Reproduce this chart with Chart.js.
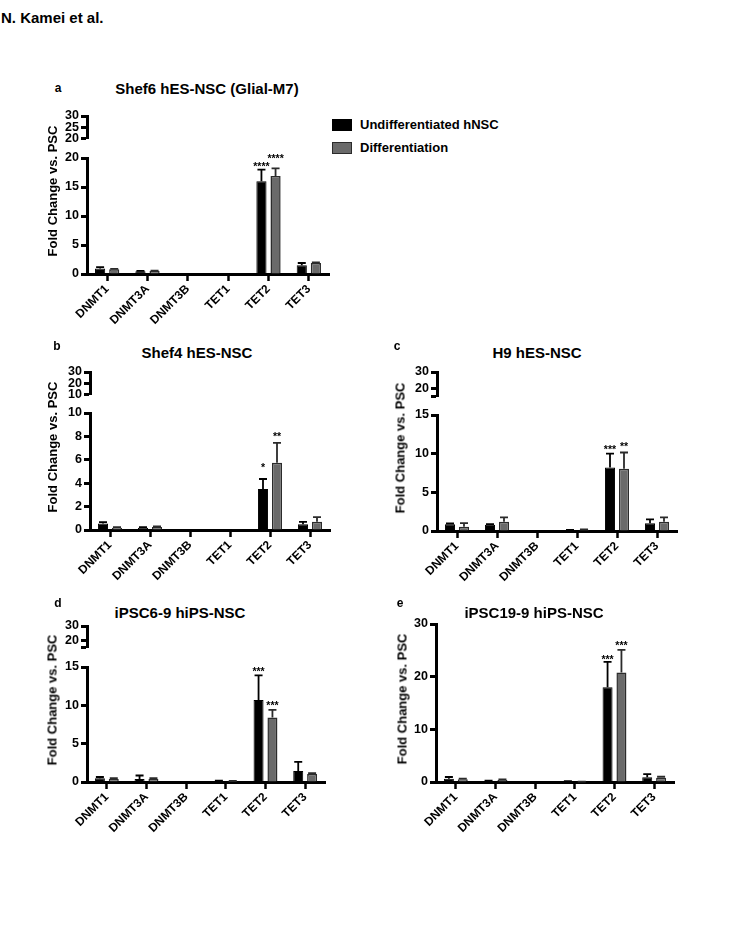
<!DOCTYPE html>
<html>
<head>
<meta charset="utf-8">
<script src="https://cdn.jsdelivr.net/npm/chart.js@4.4.1/dist/chart.umd.min.js"></script>
<style>
  body { margin: 0; background: #fff; }
  #page { position: relative; width: 737px; height: 945px; overflow: hidden;
          font-family: "Liberation Sans", Arial, sans-serif; font-weight: bold; color: #000; }
  .txt { position: absolute; white-space: nowrap; line-height: 1; }
  .ytitle { font-size: 13px; transform: translate(-50%, -50%) rotate(-90deg); }
  .title { font-size: 15px; transform: translate(-50%, -50%); }
  .letter { font-size: 12px; transform: translate(-50%, -50%); }
  .swatch { position: absolute; width: 18px; height: 10px; }
  canvas { position: absolute; }
</style>
</head>
<body>
<div id="page">
  <div class="txt" style="left:1px;top:10px;font-size:15px;">N. Kamei et al.</div>
  <div class="swatch" style="left:332px;top:119px;background:#000;border:1px solid #000;"></div>
  <div class="txt" style="left:360px;top:118px;font-size:13px;">Undifferentiated hNSC</div>
  <div class="swatch" style="left:332px;top:142px;background:#6a6a6a;border:1px solid #2b2b2b;"></div>
  <div class="txt" style="left:360px;top:141px;font-size:13px;">Differentiation</div>
</div>
<script>
// genes on the x axis
var genes = [ "DNMT1", "DNMT3A", "DNMT3B", "TET1", "TET2", "TET3" ];
var seriesNames = [ "Undifferentiated hNSC", "Differentiation" ];

// a: Shef6 hES-NSC (Glial-M7)
var shef6Undiff = [ 0.93, 0.47, 0, 0, 16.0, 1.5 ];
var shef6UndiffErr = [ 0.25, 0.08, 0, 0, 2.0, 0.4 ];
var shef6Diff = [ 0.8, 0.5, 0, 0.05, 16.9, 1.9 ];
var shef6DiffErr = [ 0.1, 0.08, 0, 0, 1.3, 0.12 ];
var shef6UndiffStars = [ "", "", "", "", "****", "" ];
var shef6DiffStars = [ "", "", "", "", "****", "" ];
var shef6LowTicks = [ 0, 5, 10, 15, 20 ];
var shef6HighTicks = [ 20, 25, 30 ];

// b: Shef4 hES-NSC
var shef4Undiff = [ 0.55, 0.2, 0, 0.03, 3.5, 0.5 ];
var shef4UndiffErr = [ 0.12, 0.05, 0, 0, 0.86, 0.2 ];
var shef4Diff = [ 0.2, 0.25, 0, 0.03, 5.75, 0.7 ];
var shef4DiffErr = [ 0.05, 0.05, 0, 0, 1.7, 0.4 ];
var shef4UndiffStars = [ "", "", "", "", "*", "" ];
var shef4DiffStars = [ "", "", "", "", "**", "" ];
var shef4LowTicks = [ 0, 2, 4, 6, 8, 10 ];
var shef4HighTicks = [ 10, 20, 30 ];

// c: H9 hES-NSC
var h9Undiff = [ 0.87, 0.8, 0, 0.1, 8.2, 1.0 ];
var h9UndiffErr = [ 0.1, 0.1, 0, 0.05, 1.8, 0.5 ];
var h9Diff = [ 0.56, 1.2, 0, 0.15, 8.05, 1.2 ];
var h9DiffErr = [ 0.45, 0.57, 0, 0.05, 2.1, 0.57 ];
var h9UndiffStars = [ "", "", "", "", "***", "" ];
var h9DiffStars = [ "", "", "", "", "**", "" ];
var h9LowTicks = [ 0, 5, 10, 15 ];
var h9HighTicks = [ 15, 20, 30 ];
var h9HighLabels = [ 20, 30 ];

// d: iPSC6-9 hiPS-NSC
var ipsc6Undiff = [ 0.5, 0.4, 0, 0.12, 10.7, 1.43 ];
var ipsc6UndiffErr = [ 0.15, 0.45, 0, 0.05, 3.2, 1.2 ];
var ipsc6Diff = [ 0.4, 0.4, 0, 0.1, 8.4, 1.04 ];
var ipsc6DiffErr = [ 0.1, 0.1, 0, 0.03, 1.0, 0.12 ];
var ipsc6UndiffStars = [ "", "", "", "", "***", "" ];
var ipsc6DiffStars = [ "", "", "", "", "***", "" ];
var ipsc6LowTicks = [ 0, 5, 10, 15 ];
var ipsc6HighTicks = [ 15, 20, 30 ];
var ipsc6HighLabels = [ 20, 30 ];

// e: iPSC19-9 hiPS-NSC
var ipsc19Undiff = [ 0.6, 0.2, 0, 0.1, 18.0, 0.9 ];
var ipsc19UndiffErr = [ 0.35, 0.05, 0, 0.05, 4.8, 0.6 ];
var ipsc19Diff = [ 0.5, 0.4, 0, 0.05, 20.8, 0.8 ];
var ipsc19DiffErr = [ 0.15, 0.1, 0, 0.03, 4.3, 0.2 ];
var ipsc19UndiffStars = [ "", "", "", "", "***", "" ];
var ipsc19DiffStars = [ "", "", "", "", "***", "" ];
var ipsc19Ticks = [ 0, 10, 20, 30 ];

var FONT = "'Liberation Sans', Arial, sans-serif",
	Y_W = 38, PAD_L = 4, PAD_R = 14, PAD_T = 12, PAD_B = 4, X_H = 64,
	page = document.getElementById( "page" );

// layout of each panel (chart areas in page pixels, star lifts in px)
var panels = [
	{ letter: "a", title: "Shef6 hES-NSC (Glial-M7)", lx: 58, ly: 88, tx: 207, ty: 88, yx: 52,
		low: { L: 87, R: 329, T: 158, B: 274 }, high: { T: 116, B: 144 }, lift: [ 1, 7 ],
		undiff: shef6Undiff, undiffErr: shef6UndiffErr, diff: shef6Diff, diffErr: shef6DiffErr,
		undiffStars: shef6UndiffStars, diffStars: shef6DiffStars,
		lowTicks: shef6LowTicks, highTicks: shef6HighTicks, highLabels: shef6HighTicks },
	{ letter: "b", title: "Shef4 hES-NSC", lx: 57, ly: 346, tx: 197, ty: 352, yx: 52,
		low: { L: 90, R: 330, T: 413, B: 530 }, high: { T: 372, B: 400 }, lift: [ 9, 4 ],
		undiff: shef4Undiff, undiffErr: shef4UndiffErr, diff: shef4Diff, diffErr: shef4DiffErr,
		undiffStars: shef4UndiffStars, diffStars: shef4DiffStars,
		lowTicks: shef4LowTicks, highTicks: shef4HighTicks, highLabels: shef4HighTicks },
	{ letter: "c", title: "H9 hES-NSC", lx: 397, ly: 346, tx: 537, ty: 352, yx: 400,
		low: { L: 437, R: 677, T: 415, B: 531 }, high: { T: 372, B: 402 }, lift: [ 2, 4 ],
		undiff: h9Undiff, undiffErr: h9UndiffErr, diff: h9Diff, diffErr: h9DiffErr,
		undiffStars: h9UndiffStars, diffStars: h9DiffStars,
		lowTicks: h9LowTicks, highTicks: h9HighTicks, highLabels: h9HighLabels },
	{ letter: "d", title: "iPSC6-9 hiPS-NSC", lx: 58, ly: 603, tx: 180, ty: 612, yx: 52,
		low: { L: 87, R: 325, T: 667, B: 782 }, high: { T: 626, B: 653 }, lift: [ 1, 2 ],
		undiff: ipsc6Undiff, undiffErr: ipsc6UndiffErr, diff: ipsc6Diff, diffErr: ipsc6DiffErr,
		undiffStars: ipsc6UndiffStars, diffStars: ipsc6DiffStars,
		lowTicks: ipsc6LowTicks, highTicks: ipsc6HighTicks, highLabels: ipsc6HighLabels },
	{ letter: "e", title: "iPSC19-9 hiPS-NSC", lx: 400, ly: 603, tx: 534, ty: 612, yx: 402,
		low: { L: 436, R: 674, T: 624, B: 782 }, high: null, lift: [ 0, 2 ],
		undiff: ipsc19Undiff, undiffErr: ipsc19UndiffErr, diff: ipsc19Diff, diffErr: ipsc19DiffErr,
		undiffStars: ipsc19UndiffStars, diffStars: ipsc19DiffStars,
		lowTicks: ipsc19Ticks, highTicks: null, highLabels: null }
];

// draws the upper error bar (line + cap) and the significance stars
var errorBars = {
	id: "errorBars",
	afterDatasetsDraw: function( chart ) {
		var ctx = chart.ctx,
			yScale = chart.scales.y;

		chart.data.datasets.forEach( function( ds, i ) {
			chart.getDatasetMeta( i ).data.forEach( function( bar, j ) {
				var top = yScale.getPixelForValue( ds.data[ j ] + ds.errors[ j ] );

				ctx.save();
				ctx.strokeStyle = ds.borderColor;
				ctx.lineWidth = 1.8;
				if ( ds.errors[ j ] > 0 ) {
					ctx.beginPath();
					ctx.moveTo( bar.x, bar.y );
					ctx.lineTo( bar.x, top );
					ctx.moveTo( bar.x - 4, top );
					ctx.lineTo( bar.x + 4, top );
					ctx.stroke();
				}
				if ( ds.stars[ j ] ) {
					ctx.fillStyle = "#000";
					ctx.font = "bold 10.5px " + FONT;
					ctx.textAlign = "center";
					ctx.textBaseline = "alphabetic";
					ctx.fillText( ds.stars[ j ], bar.x, top + 1 - ds.starLift );
				}
				ctx.restore();
			} );
		} );
	}
};

function addText( cls, text, x, y ) {
	var d = document.createElement( "div" );
	d.className = "txt " + cls;
	d.textContent = text;
	d.style.left = x + "px";
	d.style.top = y + "px";
	page.appendChild( d );
}

function makeCanvas( L, R, T, B, xH ) {
	var c = document.createElement( "canvas" );
	c.width = R - L + Y_W + PAD_L + PAD_R;
	c.height = B - T + PAD_T + PAD_B + xH;
	c.style.left = ( L - Y_W - PAD_L ) + "px";
	c.style.top = ( T - PAD_T ) + "px";
	page.appendChild( c );
	return c;
}

function yAxis( ticks, labels ) {
	return {
		type: "linear",
		min: ticks[ 0 ],
		max: ticks[ ticks.length - 1 ],
		afterFit: function( s ) { s.width = Y_W; },
		afterBuildTicks: function( s ) {
			s.ticks = ticks.map( function( v ) { return { value: v }; } );
		},
		border: { display: true, color: "#000", width: 3 },
		grid: { drawOnChartArea: false, drawTicks: true, tickLength: 6, tickWidth: 3, tickColor: "#000" },
		ticks: {
			autoSkip: false,
			color: "#000",
			padding: 2,
			font: { family: FONT, weight: "bold", size: 12.5 },
			callback: function( v ) { return labels.indexOf( v ) >= 0 ? String( v ) : ""; }
		}
	};
}

function baseOptions() {
	return {
		responsive: false,
		animation: false,
		events: [],
		layout: { padding: { left: PAD_L, right: PAD_R, top: PAD_T, bottom: PAD_B } },
		plugins: { legend: { display: false }, tooltip: { enabled: false } }
	};
}

panels.forEach( function( p ) {
	var lowCanvas, highCanvas, opts, axisTop;

	addText( "letter", p.letter, p.lx, p.ly );
	addText( "title", p.title, p.tx, p.ty );

	// lower (main) chart with the bars
	lowCanvas = makeCanvas( p.low.L, p.low.R, p.low.T, p.low.B, X_H );
	opts = baseOptions();
	opts.scales = {
		x: {
			afterFit: function( s ) { s.height = X_H; },
			border: { display: true, color: "#000", width: 3 },
			grid: { display: true, drawOnChartArea: false, offset: false, tickLength: 7, tickWidth: 2.5, tickColor: "#000" },
			ticks: {
				autoSkip: false, minRotation: 45, maxRotation: 45, padding: 1, color: "#000",
				font: { family: FONT, weight: "bold", size: 12 }
			}
		},
		y: yAxis( p.lowTicks, p.lowTicks )
	};
	new Chart( lowCanvas, {
		type: "bar",
		data: {
			labels: genes,
			datasets: [
				{ label: seriesNames[ 0 ], data: p.undiff, errors: p.undiffErr, stars: p.undiffStars, starLift: p.lift[ 0 ],
					backgroundColor: "#000", borderColor: "#000", borderWidth: 1,
					barPercentage: 0.72, categoryPercentage: 0.7 },
				{ label: seriesNames[ 1 ], data: p.diff, errors: p.diffErr, stars: p.diffStars, starLift: p.lift[ 1 ],
					backgroundColor: "#6a6a6a", borderColor: "#2b2b2b", borderWidth: 1.5,
					barPercentage: 0.72, categoryPercentage: 0.7 }
			]
		},
		options: opts,
		plugins: [ errorBars ]
	} );

	// upper segment of the broken y axis
	if ( p.high ) {
		highCanvas = makeCanvas( p.low.L, p.low.R, p.high.T, p.high.B, 0 );
		opts = baseOptions();
		opts.scales = {
			x: { display: false },
			y: yAxis( p.highTicks, p.highLabels )
		};
		new Chart( highCanvas, {
			type: "bar",
			data: { labels: genes, datasets: [] },
			options: opts
		} );
	}

	axisTop = p.high ? p.high.T : p.low.T;
	addText( "ytitle", "Fold Change vs. PSC", p.yx, ( axisTop + p.low.B ) / 2 - 4 );
} );
</script>
</body>
</html>
